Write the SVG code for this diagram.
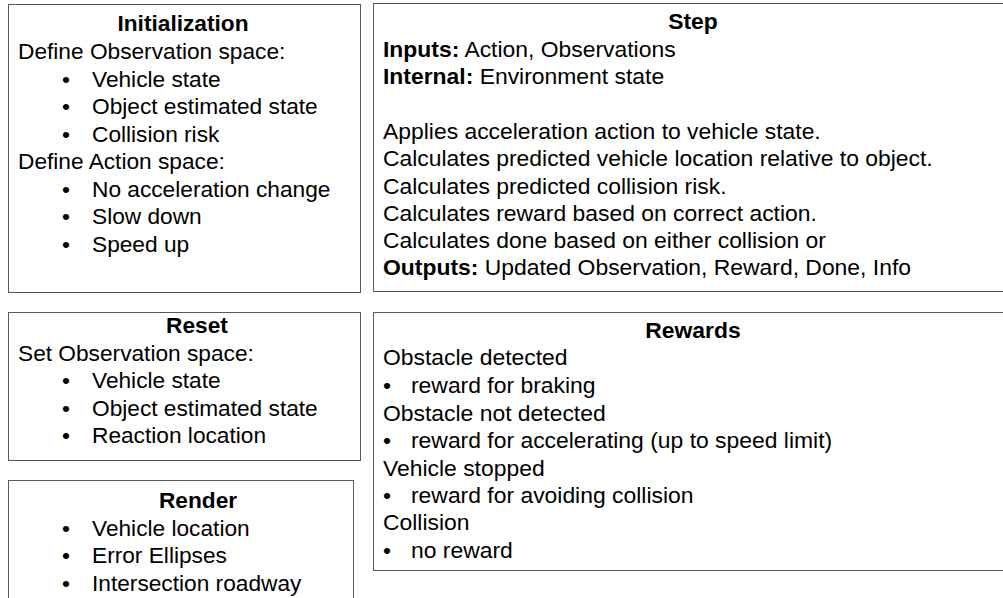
<svg xmlns="http://www.w3.org/2000/svg" width="1003" height="598" viewBox="0 0 1003 598">
<style>
  .box { fill: #ffffff; stroke: #595959; stroke-width: 1; }
  text { font-family: "Liberation Sans", Arial, sans-serif; font-size: 22.7px; fill: #000000; }
  .r text { font-size: 22.9px; }
  .title { font-weight: bold; text-anchor: middle; }
  .b { font-weight: bold; }
</style>
<rect x="0" y="0" width="1003" height="598" fill="#ffffff"/>
<g id="initialization">
  <rect class="box" x="8.5" y="4.5" width="352" height="288"/>
  <text class="title" x="183" y="31">Initialization</text>
  <text x="18" y="59">Define Observation space:</text>
  <text x="62" y="86.5">•</text><text x="92" y="86.5">Vehicle state</text>
  <text x="62" y="114">•</text><text x="92" y="114">Object estimated state</text>
  <text x="62" y="141.5">•</text><text x="92" y="141.5">Collision risk</text>
  <text x="18" y="169">Define Action space:</text>
  <text x="62" y="196.5">•</text><text x="92" y="196.5">No acceleration change</text>
  <text x="62" y="224">•</text><text x="92" y="224">Slow down</text>
  <text x="62" y="251.5">•</text><text x="92" y="251.5">Speed up</text>
</g>
<g id="step" class="r">
  <rect class="box" x="373.5" y="3.5" width="640" height="288"/>
  <text class="title" x="693" y="29">Step</text>
  <text x="383" y="57"><tspan class="b">Inputs:</tspan> Action, Observations</text>
  <text x="383" y="84"><tspan class="b">Internal:</tspan> Environment state</text>
  <text x="383" y="139">Applies acceleration action to vehicle state.</text>
  <text x="383" y="166">Calculates predicted vehicle location relative to object.</text>
  <text x="383" y="194">Calculates predicted collision risk.</text>
  <text x="383" y="221">Calculates reward based on correct action.</text>
  <text x="383" y="248">Calculates done based on either collision or</text>
  <text x="383" y="275"><tspan class="b">Outputs:</tspan> Updated Observation, Reward, Done, Info</text>
</g>
<g id="reset">
  <rect class="box" x="8.5" y="312.5" width="352" height="148"/>
  <text class="title" x="197" y="333">Reset</text>
  <text x="18" y="360.5">Set Observation space:</text>
  <text x="62" y="388">•</text><text x="92" y="388">Vehicle state</text>
  <text x="62" y="415.5">•</text><text x="92" y="415.5">Object estimated state</text>
  <text x="62" y="443">•</text><text x="92" y="443">Reaction location</text>
</g>
<g id="render">
  <rect class="box" x="8.5" y="480.5" width="345" height="130"/>
  <text class="title" x="198" y="508">Render</text>
  <text x="62" y="535.5">•</text><text x="92" y="535.5">Vehicle location</text>
  <text x="62" y="563">•</text><text x="92" y="563">Error Ellipses</text>
  <text x="62" y="590.5">•</text><text x="92" y="590.5">Intersection roadway</text>
</g>
<g id="rewards" class="r">
  <rect class="box" x="373.5" y="312.5" width="640" height="258"/>
  <text class="title" x="693" y="338">Rewards</text>
  <text x="383" y="365">Obstacle detected</text>
  <text x="383" y="393">•</text><text x="411" y="393">reward for braking</text>
  <text x="383" y="421">Obstacle not detected</text>
  <text x="383" y="448">•</text><text x="411" y="448">reward for accelerating (up to speed limit)</text>
  <text x="383" y="476">Vehicle stopped</text>
  <text x="383" y="503">•</text><text x="411" y="503">reward for avoiding collision</text>
  <text x="383" y="530">Collision</text>
  <text x="383" y="558">•</text><text x="411" y="558">no reward</text>
</g>
<g id="connectors"></g>
</svg>
